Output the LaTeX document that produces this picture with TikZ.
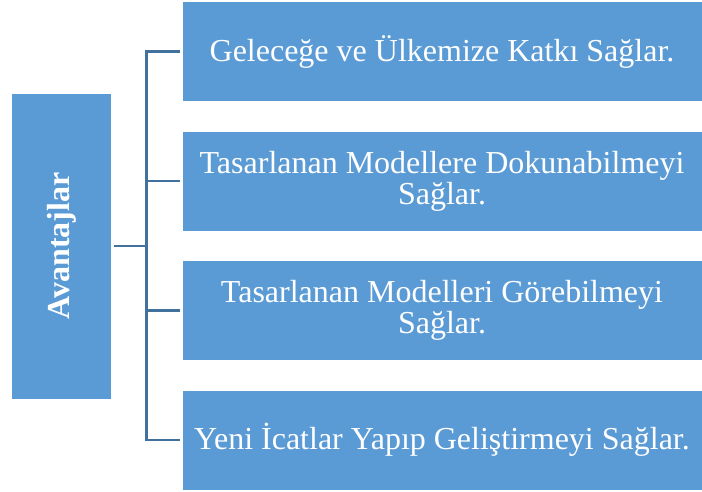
\documentclass[tikz,border=0pt]{standalone}
\usepackage{fontspec}
\setmainfont{Liberation Serif}
\definecolor{boxblue}{HTML}{5B9BD5}
\definecolor{lineblue}{HTML}{41719C}
\begin{document}
\begin{tikzpicture}[x=1pt,y=-1pt,
  bbox/.style={fill=boxblue,draw=white,line width=0.8pt,text=white,inner sep=0pt,align=center,font=\fontsize{32}{31}\selectfont},
  conn/.style={draw=lineblue,line width=2.2pt}]
\useasboundingbox (0,0) rectangle (702,492);
\node[bbox,minimum width=100pt,minimum height=306pt,font=\fontsize{32}{34}\selectfont\bfseries] (L) at (61.5,246) {\rotatebox{90}{Avantajlar}};
\node[bbox,minimum width=520pt,minimum height=100pt] (B1) at (442,51.5) {Geleceğe ve Ülkemize Katkı Sağlar.};
\node[bbox,minimum width=520pt,minimum height=100pt] (B2) at (442,181) {Tasarlanan Modellere Dokunabilmeyi\\Sağlar.};
\node[bbox,minimum width=520pt,minimum height=100pt] (B3) at (442,310.5) {Tasarlanan Modelleri Görebilmeyi\\Sağlar.};
\node[bbox,minimum width=520pt,minimum height=100pt] (B4) at (442,440) {Yeni İcatlar Yapıp Geliştirmeyi Sağlar.};
\coordinate (J) at (146.5,246);
\draw[conn] ([xshift=2pt]L.east) -- (J);
\draw[conn] (J) |- ([xshift=-2pt]B1.west);
\draw[conn] (J) |- ([xshift=-2pt]B2.west);
\draw[conn] (J) |- ([xshift=-2pt]B3.west);
\draw[conn] (J) |- ([xshift=-2pt]B4.west);
\end{tikzpicture}
\end{document}
